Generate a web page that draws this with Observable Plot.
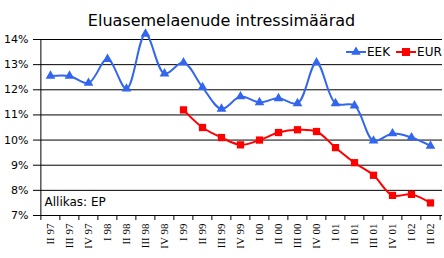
<!DOCTYPE html>
<html>
<head>
<meta charset="utf-8">
<script src="https://cdn.jsdelivr.net/npm/d3@7"></script>
<script src="https://cdn.jsdelivr.net/npm/@observablehq/plot@0.6"></script>
<style>
  html, body { margin: 0; padding: 0; background: #fff; }
  #wrap { position: relative; width: 444px; height: 258px; overflow: hidden; }
  #legend { position: absolute; top: 45px; left: 346px; font: 12px "DejaVu Sans", sans-serif; color: #000; display: flex; align-items: center; white-space: nowrap; }
  #legend span { display: inline-flex; align-items: center; }
</style>
</head>
<body>
<div id="wrap">
  <div id="legend"></div>
</div>
<script>
const title = "Eluasemelaenude intressimäärad";
const source = "Allikas: EP";
const categories = ["II 97","III 97","IV 97","I 98","II 98","III 98","IV 98","I 99","II 99","III 99","IV 99","I 00","II 00","III 00","IV 00","I 01","II 01","III 01","IV 01","I 02","II 02"];
const eek = [12.55,12.55,12.27,13.22,12.04,14.22,12.64,13.08,12.1,11.24,11.73,11.5,11.66,11.46,13.08,11.46,11.37,9.97,10.26,10.1,9.77];
const eur = [null,null,null,null,null,null,null,11.2,10.5,10.1,9.81,10.0,10.3,10.41,10.34,9.7,9.1,8.6,7.8,7.84,7.5];
const yTicks = [7,8,9,10,11,12,13,14];
const seriesNames = ["EEK","EUR"];
const colors = ["#3366ee","#ff0000"];

const eekData = categories.map((c, i) => ({cat: c, v: eek[i]}));
const eurData = categories.map((c, i) => ({cat: c, v: eur[i]})).filter(d => d.v != null);

const W = 444, H = 258;
const mL = 38, mR = 2, mT = 39, mB = 43;
const step = (W - mL - mR) / categories.length;

const chart = Plot.plot({
  width: W,
  height: H,
  marginLeft: mL,
  marginRight: mR,
  marginTop: mT,
  marginBottom: mB,
  style: {fontFamily: "'DejaVu Sans', sans-serif", fontSize: "11px", color: "#000", background: "#fff"},
  x: {type: "point", domain: categories, padding: 0.5, label: null},
  y: {domain: [7, 14], label: null},
  marks: [
    Plot.ruleY(yTicks, {stroke: "#000", strokeWidth: 1, insetLeft: -5}),
    Plot.ruleX([categories[0]], {dx: -step / 2, stroke: "#000", strokeWidth: 1}),
    Plot.ruleX(categories, {y1: 7, y2: 6.8, dx: -step / 2, stroke: "#000"}),
    Plot.ruleX([categories[categories.length - 1]], {y1: 7, y2: 6.8, dx: step / 2, stroke: "#000"}),
    Plot.axisY({ticks: yTicks, tickSize: 0, tickPadding: 10, tickFormat: d => d + "%", fontSize: 11, fontFamily: "'DejaVu Sans', sans-serif"}),
    Plot.axisX({tickSize: 0, tickPadding: 8, tickRotate: -90, fontSize: 11, fontFamily: "'Liberation Serif', serif", label: null}),
    Plot.line(eekData, {x: "cat", y: "v", stroke: colors[0], strokeWidth: 2, curve: "catmull-rom"}),
    Plot.line(eurData, {x: "cat", y: "v", stroke: colors[1], strokeWidth: 2, curve: "catmull-rom"}),
    Plot.dot(eekData, {x: "cat", y: "v", symbol: "triangle", fill: colors[0], r: 3.6}),
    Plot.dot(eurData, {x: "cat", y: "v", symbol: "square", fill: colors[1], r: 4.1}),
    Plot.text([source], {frameAnchor: "bottom-left", dx: 6, dy: -13, textAnchor: "start", lineAnchor: "middle", fontSize: 12, fill: "#000"}),
    Plot.text([title], {frameAnchor: "top", dx: -19, dy: -19, lineAnchor: "middle", fontSize: 16, fill: "#000"})
  ]
});
document.getElementById("wrap").prepend(chart);

const legend = document.getElementById("legend");
const syms = ["triangle", "square"];
seriesNames.forEach((name, i) => {
  const s = document.createElement("span");
  s.style.marginRight = i === 0 ? "6px" : "0";
  const sym = i === 0
    ? `<path d="${d3.symbol(d3.symbolTriangle, 40)()}" transform="translate(10,6)" fill="${colors[i]}"/>`
    : `<rect x="6" y="2" width="8" height="8" fill="${colors[i]}"/>`;
  s.innerHTML = `<svg width="20" height="12" style="margin-right:1px"><line x1="0" x2="20" y1="6" y2="6" stroke="${colors[i]}" stroke-width="2"/>${sym}</svg>${name}`;
  legend.appendChild(s);
});
</script>
</body>
</html>
